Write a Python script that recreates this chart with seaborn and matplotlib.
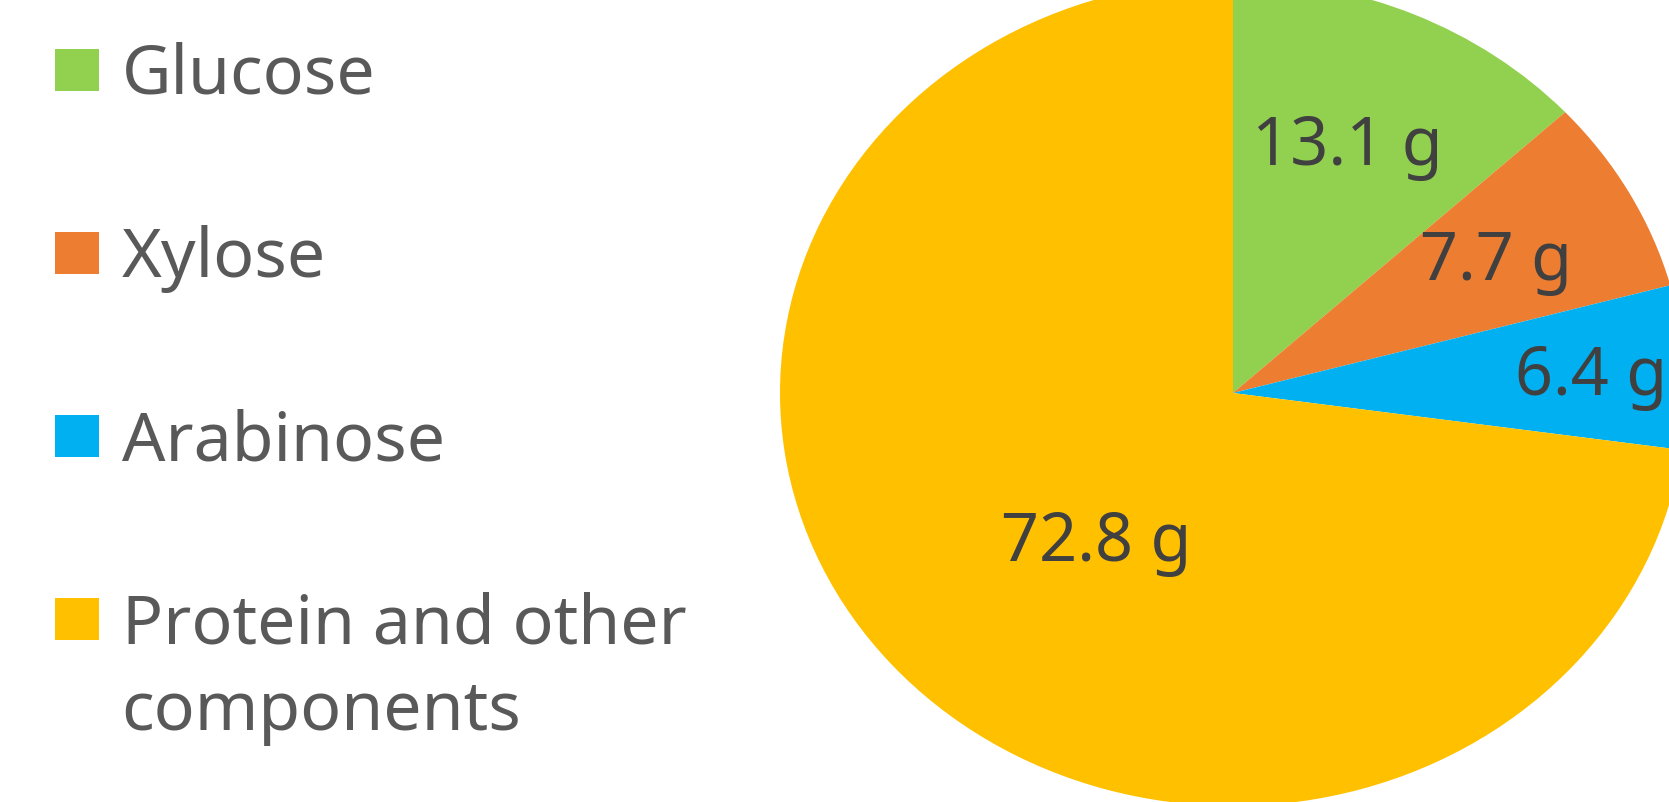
import seaborn as sns
import numpy as np
import matplotlib.pyplot as plt
from matplotlib.text import Annotation

# data
components = ['Glucose', 'Xylose', 'Arabinose', 'Protein and other']
grams = [13.1, 7.7, 6.4, 72.8]
colors = ['#92D050', '#ED7D31', '#00B0F0', '#FFC000']

# label placement (radius as fraction, angle nudge in degrees)
label_r = [0.607, 0.641, 0.79, 0.507]
label_turn = [-0.9, -3.7, -4.0, 12.4]

sns.set_theme(style='white')
plt.rcParams['font.family'] = ['Noto Sans', 'DejaVu Sans']

W, H = 1669, 802
fig = plt.figure(figsize=(W / 100, H / 100), dpi=100)

# pie is drawn slightly stretched, like the original
cx, cy, rx, ry = 1233, 393, 453, 413
ax = fig.add_axes([(cx - rx) / W, (H - cy - ry) / H, 2 * rx / W, 2 * ry / H])
wedges, _ = ax.pie(
    grams,
    colors=sns.color_palette(colors),
    startangle=90,
    counterclock=False,
    wedgeprops=dict(linewidth=0),
)
ax.set_aspect('auto')
ax.set_xlim(-1, 1)
ax.set_ylim(-1, 1)
ax.axis('off')

for w, g, r, d in zip(wedges, grams, label_r, label_turn):
    mid = np.deg2rad((w.theta1 + w.theta2) / 2 + d)
    ax.text(r * np.cos(mid), r * np.sin(mid), f'{g} g',
            ha='center', va='baseline', fontsize=48, color='#404040')

leg = fig.legend(
    wedges, components,
    loc='upper left',
    bbox_to_anchor=(55 / W, 1 - 42 / H),
    frameon=False,
    fontsize=49,
    handlelength=0.64,
    handleheight=0.58,
    handletextpad=0.34,
    labelspacing=1.69,
    borderpad=0,
    borderaxespad=0,
)
for t in leg.get_texts():
    t.set_color('#595959')

# second line of the last legend entry
comp = Annotation('components', xy=(0, 0), xycoords=leg.get_texts()[-1],
                  xytext=(0, -14), textcoords='offset points',
                  va='top', ha='left', fontsize=49, color='#595959',
                  annotation_clip=False, zorder=10)
fig.add_artist(comp)

fig.savefig('out.png', dpi=100)
